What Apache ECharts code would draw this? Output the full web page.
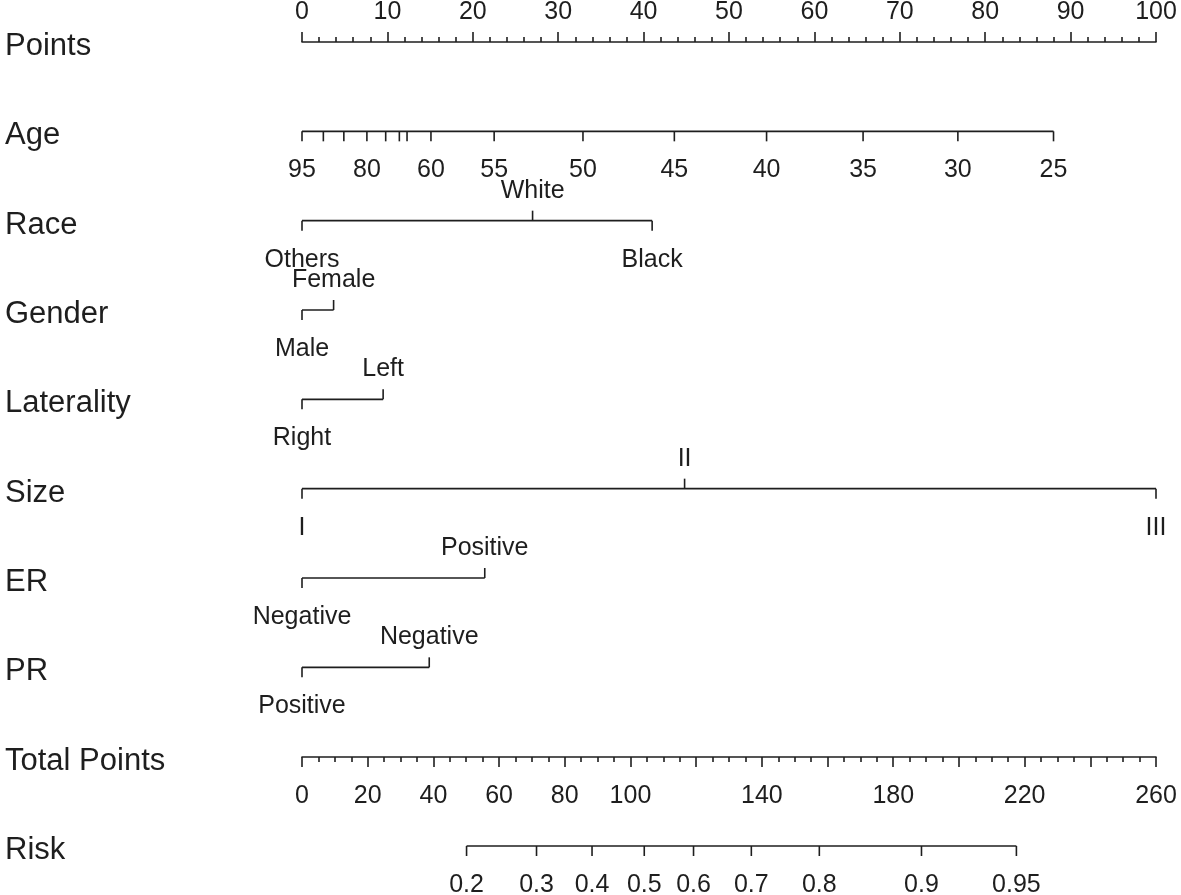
<!DOCTYPE html>
<html>
<head>
<meta charset="utf-8">
<title>Nomogram</title>
<script src="https://cdn.jsdelivr.net/npm/echarts@6/dist/echarts.min.js"></script>
<style>
  html, body { margin: 0; padding: 0; background: #fff; }
  #main { width: 1181px; height: 895px; }
</style>
</head>
<body>
<div id="main"></div>
<script>
// rows of the nomogram, top to bottom
var rowNames = ['Points', 'Age', 'Race', 'Gender', 'Laterality', 'Size', 'ER', 'PR', 'Total Points', 'Risk'];

// age: value -> points, labels that are printed
var ageValues = [95, 90, 85, 80, 75, 70, 65, 60, 55, 50, 45, 40, 35, 30, 25];
var agePoints = [0, 2.5, 4.9, 7.6, 9.8, 11.4, 12.3, 15.1, 22.5, 32.9, 43.6, 54.4, 65.7, 76.8, 88.0];
var ageShown = [95, 80, 60, 55, 50, 45, 40, 35, 30, 25];

// categorical variables: levels and their points
var raceLevels = ['Others', 'White', 'Black'];
var racePoints = [0, 27.0, 41.0];
var genderLevels = ['Male', 'Female'];
var genderPoints = [0, 3.7];
var lateralityLevels = ['Right', 'Left'];
var lateralityPoints = [0, 9.5];
var sizeLevels = ['I', 'II', 'III'];
var sizePoints = [0, 44.8, 100];
var erLevels = ['Negative', 'Positive'];
var erPoints = [0, 21.4];
var prLevels = ['Positive', 'Negative'];
var prPoints = [0, 14.9];

// total points axis
var totalMax = 260;
var totalHidden = [120, 160, 200, 240];

// risk: probability labels and their total points
var riskLabels = ['0.2', '0.3', '0.4', '0.5', '0.6', '0.7', '0.8', '0.9', '0.95'];
var riskTotal = [50.1, 71.4, 88.3, 104.2, 119.2, 136.8, 157.5, 188.6, 217.5];

var ink = '#1e1e1e';
var fam = '"Liberation Sans", Arial, sans-serif';
var font = '25px ' + fam;
var lw = 1.6;

// one line + ticks/labels for a row
function rowSeries(row, pts, labels, sides, gridIdx) {
    var lo = Math.min.apply(null, pts), hi = Math.max.apply(null, pts);
    var line = {
        type: 'line',
        xAxisIndex: gridIdx, yAxisIndex: gridIdx,
        data: [[lo, row], [hi, row]],
        symbol: 'none', clip: false, silent: true,
        lineStyle: { color: ink, width: lw }
    };
    var marks = {
        type: 'custom',
        xAxisIndex: gridIdx, yAxisIndex: gridIdx,
        clip: false, silent: true,
        encode: { x: 0, y: 1 },
        data: pts.map(function (p) { return [p, row]; }),
        renderItem: function (params, api) {
            var c = api.coord([api.value(0), api.value(1)]);
            var up = sides[params.dataIndex] === 'above';
            var d = up ? -1 : 1;
            return {
                type: 'group',
                children: [{
                    type: 'line',
                    shape: { x1: c[0], y1: c[1], x2: c[0], y2: c[1] + d * 10 },
                    style: { stroke: ink, lineWidth: lw }
                }, {
                    type: 'text',
                    style: {
                        text: labels[params.dataIndex],
                        x: c[0], y: c[1] + (up ? -30 : 39),
                        align: 'center', verticalAlign: 'middle',
                        fill: ink, font: font
                    }
                }]
            };
        }
    };
    return [line, marks];
}

// alternate labels below/above in order of points
function altSides(pts) {
    var order = pts.map(function (p, i) { return i; }).sort(function (a, b) { return pts[a] - pts[b]; });
    var sides = [];
    order.forEach(function (idx, rank) { sides[idx] = rank % 2 === 0 ? 'below' : 'above'; });
    return sides;
}

var series = [];
series = series.concat(rowSeries(1, agePoints,
    ageValues.map(function (v) { return ageShown.indexOf(v) >= 0 ? String(v) : ''; }),
    ageValues.map(function () { return 'below'; }), 0));
[[2, racePoints, raceLevels], [3, genderPoints, genderLevels], [4, lateralityPoints, lateralityLevels],
 [5, sizePoints, sizeLevels], [6, erPoints, erLevels], [7, prPoints, prLevels]].forEach(function (r) {
    series = series.concat(rowSeries(r[0], r[1], r[2], altSides(r[1]), 0));
});
series = series.concat(rowSeries(1, riskTotal, riskLabels, riskLabels.map(function () { return 'below'; }), 1));

var chart = echarts.init(document.getElementById('main'));
chart.setOption({
    animation: false,
    backgroundColor: '#fff',
    grid: [
        { left: 302, right: 25, top: 42, bottom: 49 },
        { left: 302, right: 25, top: 757, bottom: 49 }
    ],
    xAxis: [{
        gridIndex: 0, type: 'value', position: 'top', min: 0, max: 100, interval: 10,
        axisLine: { show: true, onZero: false, lineStyle: { color: ink, width: lw } },
        axisTick: { show: true, length: 10, lineStyle: { color: ink, width: lw } },
        minorTick: { show: true, splitNumber: 5, length: 5, lineStyle: { color: ink, width: lw } },
        axisLabel: { color: ink, fontSize: 25, fontFamily: fam, margin: 17 },
        splitLine: { show: false }
    }, {
        gridIndex: 1, type: 'value', position: 'top', min: 0, max: totalMax, interval: 20,
        axisLine: { show: true, onZero: false, lineStyle: { color: ink, width: lw } },
        axisTick: { show: true, inside: true, length: 10, lineStyle: { color: ink, width: lw } },
        minorTick: { show: true, splitNumber: 4, length: 5, lineStyle: { color: ink, width: lw } },
        axisLabel: {
            inside: true, color: ink, fontSize: 25, fontFamily: fam, margin: 27,
            formatter: function (v) { return totalHidden.indexOf(v) >= 0 ? '' : String(v); }
        },
        splitLine: { show: false }
    }],
    yAxis: [{
        gridIndex: 0, type: 'category', inverse: true, boundaryGap: false, data: rowNames,
        axisLine: { show: false }, axisTick: { show: false },
        axisLabel: {
            color: ink, fontSize: 31, fontFamily: fam, align: 'left', margin: 297,
            verticalAlign: 'top', lineHeight: 9
        },
        splitLine: { show: false }
    }, {
        gridIndex: 1, type: 'value', inverse: true, min: 0, max: 1, show: false
    }],
    series: series
});
</script>
</body>
</html>
